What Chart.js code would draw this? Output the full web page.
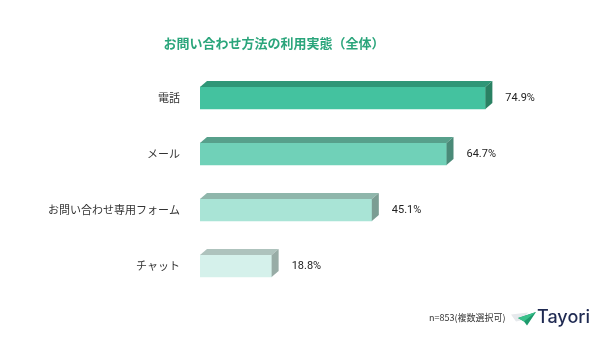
<!DOCTYPE html>
<html lang="ja">
<head>
<meta charset="utf-8">
<title>お問い合わせ方法の利用実態（全体）</title>
<script src="https://cdn.jsdelivr.net/npm/chart.js@4/dist/chart.umd.min.js"></script>
<style>
  html, body { margin: 0; padding: 0; background: #ffffff; }
  #wrap { position: relative; width: 600px; height: 350px; }
</style>
</head>
<body>
<div id="wrap"><canvas id="chart" width="600" height="350"></canvas></div>
<script>
// Survey: which contact channels are used (multiple answers allowed)
const categories = ['電話', 'メール', 'お問い合わせ専用フォーム', 'チャット'];
const shares = [74.9, 64.7, 45.1, 18.8];
const chartTitle = 'お問い合わせ方法の利用実態（全体）';
const sampleNote = 'n=853(複数選択可)';
const brandName = 'Tayori';

// Face colours for each bar: front, top, side
const frontColors = ['#44c29f', '#70d1b8', '#a9e4d6', '#d5f1eb'];
const topColors   = ['#2f9677', '#57a08b', '#8fb6ab', '#aec3bd'];
const sideColors  = ['#2a8163', '#4a8a78', '#7b9d93', '#98aca6'];

const JP_FONT = "'Noto Sans CJK JP', 'Noto Sans', sans-serif";
const NUM_FONT = "Roboto, 'Noto Sans CJK JP', sans-serif";

// Extrudes each horizontal bar into a box and writes its value to the right
const boxBars = {
  id: 'boxBars',
  afterDatasetsDraw(chart) {
    const ctx = chart.ctx;
    const meta = chart.getDatasetMeta(0);
    const dx = 7, dy = 6;
    meta.data.forEach((bar, i) => {
      const p = bar.getProps(['x', 'y', 'base', 'height'], true);
      const top = p.y - p.height / 2;
      const bottom = p.y + p.height / 2;
      ctx.save();
      // top face
      ctx.fillStyle = topColors[i];
      ctx.beginPath();
      ctx.moveTo(p.base, top);
      ctx.lineTo(p.base + dx, top - dy);
      ctx.lineTo(p.x + dx, top - dy);
      ctx.lineTo(p.x, top);
      ctx.closePath();
      ctx.fill();
      // side face
      ctx.fillStyle = sideColors[i];
      ctx.beginPath();
      ctx.moveTo(p.x, top);
      ctx.lineTo(p.x + dx, top - dy);
      ctx.lineTo(p.x + dx, bottom - dy);
      ctx.lineTo(p.x, bottom);
      ctx.closePath();
      ctx.fill();
      // value label
      ctx.fillStyle = '#222222';
      ctx.font = '11px ' + NUM_FONT;
      ctx.textAlign = 'left';
      ctx.textBaseline = 'middle';
      const v = chart.data.datasets[0].data[i];
      ctx.fillText(v.toFixed(1) + '%', p.x + 20, p.y);
      ctx.restore();
    });
  }
};

// Heading, sample note and brand mark
const decorations = {
  id: 'decorations',
  afterDraw(chart) {
    const ctx = chart.ctx;
    ctx.save();
    ctx.fillStyle = '#2aa57b';
    ctx.font = 'bold 13px ' + JP_FONT;
    ctx.textAlign = 'center';
    ctx.textBaseline = 'middle';
    ctx.fillText(chartTitle, 274, 43);

    ctx.fillStyle = '#333333';
    ctx.font = '9px ' + JP_FONT;
    ctx.textAlign = 'left';
    ctx.fillText(sampleNote, 429, 318);

    // paper-plane mark
    ctx.fillStyle = '#e6e9ec';
    ctx.beginPath();
    ctx.moveTo(511, 314.5);
    ctx.lineTo(528, 312.5);
    ctx.lineTo(523, 320);
    ctx.lineTo(516, 321.5);
    ctx.closePath();
    ctx.fill();
    ctx.fillStyle = '#1e9a6c';
    ctx.beginPath();
    ctx.moveTo(518, 318);
    ctx.lineTo(536, 312);
    ctx.lineTo(527, 325.5);
    ctx.lineTo(524, 321.5);
    ctx.closePath();
    ctx.fill();
    ctx.fillStyle = '#39c08a';
    ctx.beginPath();
    ctx.moveTo(518, 318);
    ctx.lineTo(536, 312);
    ctx.lineTo(524, 321.5);
    ctx.closePath();
    ctx.fill();

    ctx.fillStyle = '#1f2a52';
    ctx.font = '500 18px ' + "Inter, Roboto, sans-serif";
    ctx.textBaseline = 'middle';
    ctx.fillText(brandName, 537, 318);
    ctx.restore();
  }
};

new Chart(document.getElementById('chart'), {
  type: 'bar',
  data: {
    labels: categories,
    datasets: [{
      data: shares,
      backgroundColor: frontColors,
      borderWidth: 0,
      barThickness: 22
    }]
  },
  options: {
    indexAxis: 'y',
    responsive: false,
    animation: false,
    events: [],
    layout: { padding: { top: 70, bottom: 56, left: 0, right: 19 } },
    plugins: {
      legend: { display: false },
      title: { display: false },
      tooltip: { enabled: false }
    },
    scales: {
      x: {
        display: false,
        min: 0,
        max: 100
      },
      y: {
        afterFit(scale) { scale.width = 200; },
        grid: { display: false, drawTicks: false },
        border: { display: false },
        ticks: {
          padding: 20,
          color: '#333333',
          font: { size: 11, family: JP_FONT }
        }
      }
    }
  },
  plugins: [boxBars, decorations]
});
</script>
</body>
</html>
